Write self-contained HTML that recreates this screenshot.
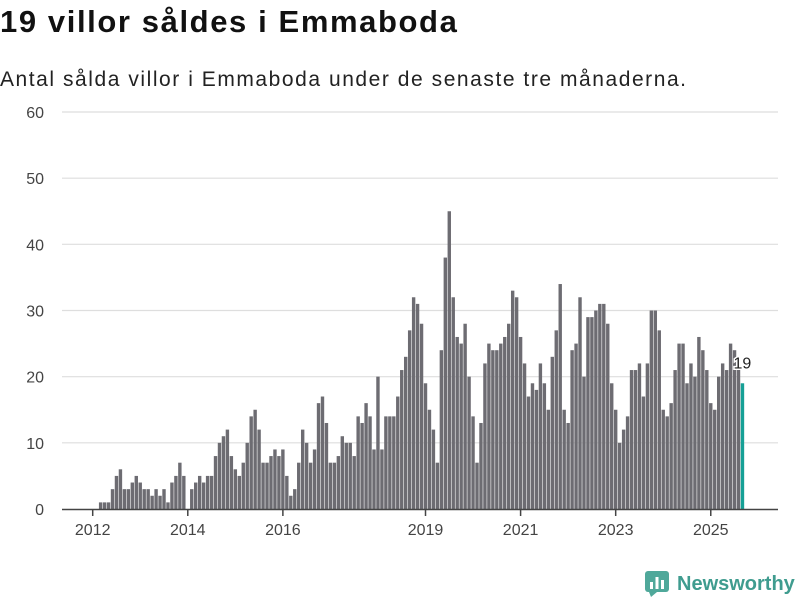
<!DOCTYPE html>
<html><head><meta charset="utf-8">
<style>
body{margin:0;width:800px;height:600px;background:#fff;font-family:"Liberation Sans",sans-serif;overflow:hidden;position:relative}
#title{position:absolute;left:0;top:4px;font-size:31px;font-weight:bold;color:#111;letter-spacing:1.6px}
#sub{position:absolute;left:0;top:68px;font-size:21px;color:#222;letter-spacing:1.55px}
svg{position:absolute;left:0;top:0}
</style></head><body>
<div id="title">19 villor såldes i Emmaboda</div>
<div id="sub">Antal sålda villor i Emmaboda under de senaste tre månaderna.</div>
<svg id="chart" width="800" height="600"></svg>
<script>
const startYear = 2012, startMonth = 2; // March 2012 (0-based month)
const values = [
1,1,1,3,5,6,3,3,4,5,
4,3,3,2,3,2,3,1,4,5,7,5,
0,3,4,5,4,5,5,8,10,11,12,8,
6,5,7,10,14,15,12,7,7,8,9,8,
9,5,2,3,7,12,10,7,9,16,17,13,
7,7,8,11,10,10,8,14,13,16,14,9,
20,9,14,14,14,17,21,23,27,32,31,28,
19,15,12,7,24,38,45,32,26,25,28,20,
14,7,13,22,25,24,24,25,26,28,33,32,
26,22,17,19,18,22,19,15,23,27,34,15,
13,24,25,32,20,29,29,30,31,31,28,19,
15,10,12,14,21,21,22,17,22,30,30,27,
15,14,16,21,25,25,19,22,20,26,24,21,
16,15,20,22,21,25,24,22,19];
const yTicks = [0,10,20,30,40,50,60];
const xTickYears = [2012,2014,2016,2019,2021,2023,2025];
const svg = document.getElementById('chart');
const NS = 'http://www.w3.org/2000/svg';
const x0 = 92.7, monthW = 3.962;
function xm(mi){ return x0 + mi*monthW; } // mi months since Jan 2012
function y(v){ return 509 - v*(397/60); }
function mk(t,a){const e=document.createElementNS(NS,t);for(const k in a)e.setAttribute(k,a[k]);svg.appendChild(e);return e;}
yTicks.forEach(v=>{
  if(v>0){const g=mk('line',{x1:62,x2:778,y1:y(v),y2:y(v),stroke:'#dedede','stroke-width':1.2});
  
  }
  const t=mk('text',{x:44,y:y(v)+6,'text-anchor':'end','font-size':16,fill:'#444','font-family':'Liberation Sans, sans-serif'});
  t.textContent=v;
  
  
});
values.forEach((v,i)=>{
  const mi = (startMonth + i);
  const cx = xm(mi);
  const last = i===values.length-1;
  const r=mk('rect',{x:cx-1.7,y:y(v),width:3.4,height:509-y(v),fill:last?'#16a096':'#6d6c72'});
  
  
  if(last){
    const t=mk('text',{x:cx-9,y:y(v)-15,'font-size':16,fill:'#222',stroke:'#fff','stroke-width':3,'paint-order':'stroke','font-family':'Liberation Sans, sans-serif'});
    t.textContent=v;
    
    
  }
});
const ax=mk('line',{x1:62,x2:778,y1:509.5,y2:509.5,stroke:'#444','stroke-width':1.5});


xTickYears.forEach(yr=>{
  const cx=xm((yr-2012)*12);
  const l=mk('line',{x1:cx,x2:cx,y1:509,y2:516,stroke:'#444','stroke-width':1.5});
  
  
  const t=mk('text',{x:cx,y:535,'text-anchor':'middle','font-size':16,fill:'#444','font-family':'Liberation Sans, sans-serif'});
  t.textContent=yr;
  
  
});
</script>
<div style="position:absolute;left:645px;top:570px;height:28px;display:flex;align-items:center">
<svg width="24" height="26" style="position:static"><rect x="0" y="0" width="24" height="21" rx="3" fill="#4fa89a"/><polygon points="4,21 12,21 6,26" fill="#4fa89a"/><rect x="5" y="11" width="3" height="7" fill="#fff"/><rect x="10.5" y="6" width="3" height="12" fill="#fff"/><rect x="16" y="9" width="3" height="9" fill="#fff"/></svg>
<span style="margin-left:8px;font-size:20px;font-weight:bold;color:#3f9c8f">Newsworthy</span>
</div>
</body></html>
